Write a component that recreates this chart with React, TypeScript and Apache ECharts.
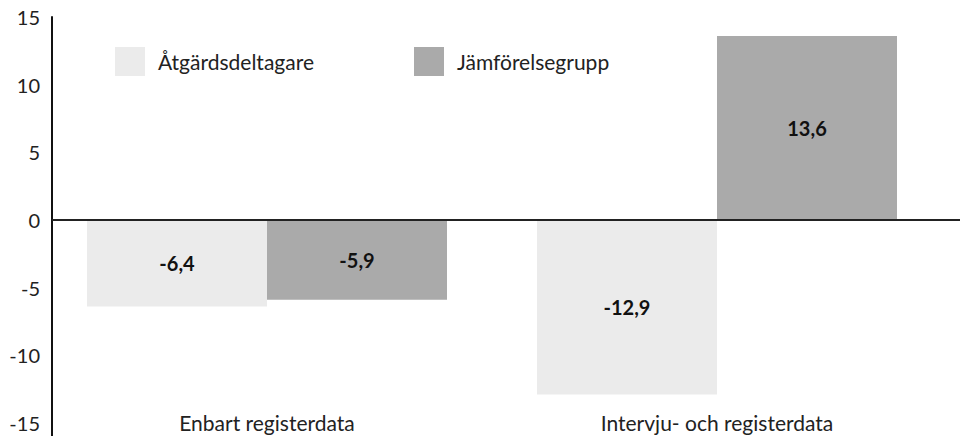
import React, { useEffect, useRef } from "react";
import * as echarts from "echarts";

const categories = ["Enbart registerdata", "Intervju- och registerdata"];
const seriesNames = ["Åtgärdsdeltagare", "Jämförelsegrupp"];
const participants = [-6.4, -12.9];
const comparison = [-5.9, 13.6];
const yMin = -15;
const yMax = 15;
const yStep = 5;

const FONT = "Lato, 'Open Sans', sans-serif";
const TEXT = "#222";

export default function App() {
  const ref = useRef<HTMLDivElement>(null);
  useEffect(() => {
    if (!ref.current) return;
    const chart = echarts.init(ref.current, undefined, { renderer: "svg" });
    const fmt = (p: any) => String(p.value).replace(".", ",");
    const label = {
      show: true,
      position: "inside",
      formatter: fmt,
      color: "#111",
      fontWeight: "bold",
      fontSize: 20,
      fontFamily: FONT,
    };
    chart.setOption({
      animation: false,
      backgroundColor: "#fff",
      textStyle: { fontFamily: FONT },
      legend: {
        left: 110,
        top: 42,
        itemWidth: 30,
        itemHeight: 29,
        itemGap: 100,
        icon: "rect",
        textStyle: { fontSize: 21, color: TEXT, fontFamily: FONT, padding: [0, 0, 0, 8] },
        data: seriesNames,
      },
      grid: { left: 42, right: 18, top: 17, bottom: 19 },
      xAxis: {
        type: "category",
        data: categories,
        axisLine: { show: false, onZero: false },
        axisTick: { show: false },
        axisLabel: {
          margin: -11,
          fontSize: 21,
          color: TEXT,
          fontFamily: FONT,
        },
      },
      yAxis: {
        type: "value",
        min: yMin,
        max: yMax,
        interval: yStep,
        offset: -10,
        splitLine: { show: false },
        axisTick: { show: false },
        axisLine: { show: true, lineStyle: { color: "#111", width: 2 } },
        axisLabel: { margin: 12, fontSize: 20, color: TEXT, fontFamily: FONT },
      },
      series: [
        {
          name: seriesNames[0],
          type: "bar",
          data: participants,
          barWidth: "40%",
          barGap: "0%",
          itemStyle: { color: "#ebebeb" },
          label,
        },
        {
          name: seriesNames[1],
          type: "bar",
          data: comparison,
          barWidth: "40%",
          barGap: "0%",
          itemStyle: { color: "#aaaaaa" },
          label,
        },
      ],
    });
    const y0 = chart.convertToPixel({ yAxisIndex: 0 }, 0) as number;
    const yBottom = chart.convertToPixel({ yAxisIndex: 0 }, yMin) as number;
    const axisX = 52;
    chart.setOption({
      graphic: [
        {
          type: "line",
          shape: { x1: axisX, y1: y0, x2: 960, y2: y0 },
          style: { stroke: "#222", lineWidth: 2 },
          z: 10,
        },
        {
          type: "line",
          shape: { x1: axisX, y1: yBottom, x2: axisX, y2: yBottom + 13 },
          style: { stroke: "#111", lineWidth: 2 },
          z: 10,
        },
      ],
    });
    return () => chart.dispose();
  }, []);
  return (
    <div
      ref={ref}
      style={{ position: "fixed", left: 0, top: 0, width: 960, height: 442 }}
    />
  );
}
